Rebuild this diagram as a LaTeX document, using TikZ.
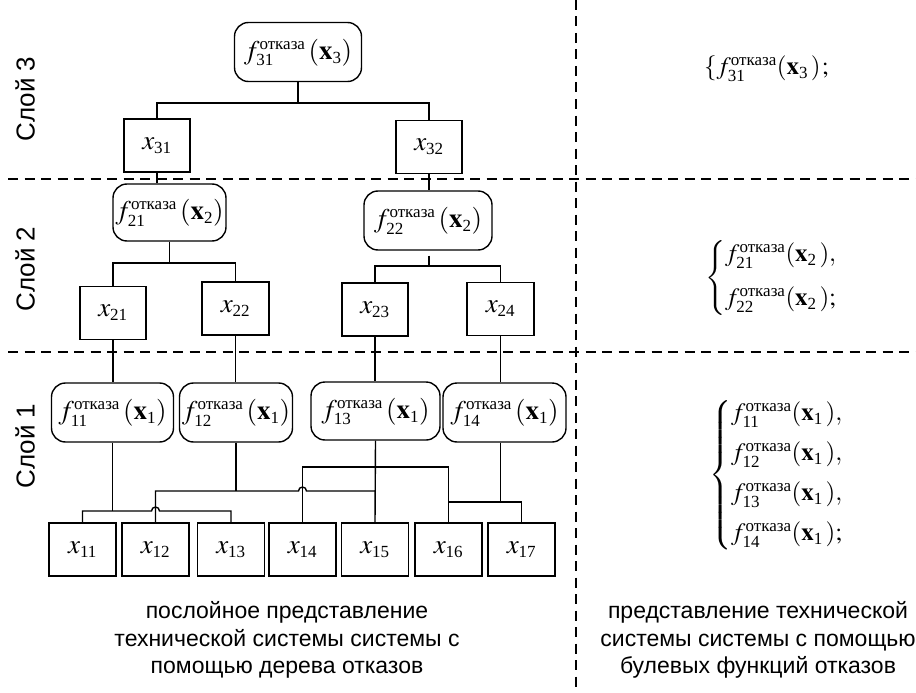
\documentclass[tikz,border=0pt]{standalone}
\usepackage{amsmath}
\usepackage{mathptmx}
\usepackage{fontspec}
\setmainfont{Liberation Serif}
\setsansfont{Liberation Sans}
\usetikzlibrary{calc}
\newcommand{\sxa}[1]{\mbox{\fontsize{17}{20}\selectfont #1}}
\newcommand{\sxb}[1]{\mbox{\fontsize{17}{20}\selectfont #1}}
\newcommand{\pstrut}{\rule[-5pt]{0pt}{26pt}}
\newcommand{\qstrut}{\rule[-5pt]{0pt}{25pt}}
\newcommand{\fotk}[2]{$f^{\sxa{отказа}}_{\sxa{#1}}\left(\mathbf{x}_{\sxa{#2}}\pstrut\right)$}
\newcommand{\fotkm}[2]{f^{\sxb{отказа}}_{\sxb{#1}}{\left(\mathbf{x}_{\sxb{#2}}\,\qstrut\right)}}
\begin{document}
\begin{tikzpicture}[x=1pt,y=-1pt,line width=1.4pt,
  mathfont/.style={font=\fontsize{27}{31}\selectfont},
  rmath/.style={font=\fontsize{25}{29}\selectfont},
  fnode/.style={draw,rounded corners=14pt,inner sep=0pt,mathfont},
  xnode/.style={draw,inner sep=0pt,minimum width=67pt,minimum height=53pt,mathfont},
  sep/.style={dash pattern=on 10pt off 6.5pt,line width=1.6pt},
  layer/.style={rotate=90,font=\sffamily\fontsize{26}{30}\selectfont},
  caption/.style={align=center,font=\sffamily\fontsize{23}{27.5}\selectfont}]
\useasboundingbox (0,0) rectangle (916,693);

% separators
\coordinate (s1a) at (8,179); \coordinate (s1b) at (916,179);
\coordinate (s2a) at (8,352); \coordinate (s2b) at (916,352);
\coordinate (sva) at (576,0); \coordinate (svb) at (576,693);
\draw[sep] (s1a) -- (s1b);
\draw[sep] (s2a) -- (s2b);
\draw[sep] (sva) -- (svb);

% layer labels
\node[layer] (L3) at (25,99) {Слой 3};
\node[layer] (L2) at (25,269) {Слой 2};
\node[layer] (L1) at (25,446) {Слой 1};

% layer 3
\node[fnode,minimum width=127pt,minimum height=59pt] (f31) at (298,52) {\fotk{31}{3}};
\node[xnode,minimum width=66pt] (x31) at (157,145.5) {$x_{\sxa{31}}$};
\node[xnode,minimum width=66pt] (x32) at (429,147) {$x_{\sxa{32}}$};

% layer 2
\node[fnode,minimum width=113pt,minimum height=57pt] (f21) at (169.5,212.5) {\fotk{21}{2}};
\node[fnode,minimum width=128pt,minimum height=59pt] (f22) at (428,220.5) {\fotk{22}{2}};
\node[xnode,minimum width=66pt] (x21) at (113,313) {$x_{\sxa{21}}$};
\node[xnode] (x22) at (235.5,308.5) {$x_{\sxa{22}}$};
\node[xnode,minimum width=66pt] (x23) at (375,309.5) {$x_{\sxa{23}}$};
\node[xnode] (x24) at (500.5,309) {$x_{\sxa{24}}$};

% layer 1
\node[fnode,minimum width=122pt,minimum height=59pt] (f11) at (112.5,412.5) {\fotk{11}{1}};
\node[fnode,minimum width=113pt,minimum height=59pt] (f12) at (236,412.5) {\fotk{12}{1}};
\node[fnode,minimum width=129pt,minimum height=58pt] (f13) at (375.5,411) {\fotk{13}{1}};
\node[fnode,minimum width=123pt,minimum height=59pt] (f14) at (504.5,412.5) {\fotk{14}{1}};

\node[xnode] (x11) at (82.5,549.5) {$x_{\sxa{11}}$};
\node[xnode] (x12) at (155.5,549.5) {$x_{\sxa{12}}$};
\node[xnode] (x13) at (231,549.5) {$x_{\sxa{13}}$};
\node[xnode] (x14) at (302.5,549.5) {$x_{\sxa{14}}$};
\node[xnode] (x15) at (375,549.5) {$x_{\sxa{15}}$};
\node[xnode] (x16) at (448.5,549.5) {$x_{\sxa{16}}$};
\node[xnode] (x17) at (521.5,549.5) {$x_{\sxa{17}}$};

% junction levels
\coordinate (t3) at (0,103);
\coordinate (t21) at (0,263);
\coordinate (t22) at (0,266);
\coordinate (h1) at (0,511);
\coordinate (h2) at (0,491);
\coordinate (h3) at (0,467);
\coordinate (h4) at (0,502);

% connectors layer 3
\draw (f31.south) -- (f31.south |- t3);
\draw (x31.north) -- (x31.north |- t3) -- (x32.north |- t3) -- (x32.north);
\draw (x31.south) -- (x31.south |- f21.north);
\draw (x32.south) -- (x32.south |- f22.north);

% connectors layer 2
\draw (f21.south) -- (f21.south |- t21);
\draw (x21.north) -- (x21.north |- t21) -- (x22.north |- t21) -- (x22.north);
\draw ($(f22.south)+(1,5)$) -- ($(f22.south |- t22)+(1,0)$);
\draw (x23.north) -- (x23.north |- t22) -- (x24.north |- t22) -- (x24.north);
\draw (x21.south) -- (x21.south |- f11.north);
\draw (x22.south) -- (x22.south |- f12.north);
\draw (x23.south) -- (x23.south |- f13.north);
\draw (x24.south) -- (x24.south |- f14.north);

% connectors layer 1
\draw (f11.south) -- (f11.south |- h1);
\draw (x11.north) -- (x11.north |- h1) -- ($(x12.north |- h1)+(-4,0)$)
  arc[start angle=180,end angle=0,radius=4pt] -- (x13.north |- h1) -- (x13.north);
\draw (f12.south) -- (f12.south |- h2);
\draw (x12.north) -- (x12.north |- h2) -- ($(x14.north |- h2)+(-4,0)$)
  arc[start angle=180,end angle=0,radius=4pt] -- (x15.north |- h2);
\draw (f13.south) -- (x15.north);
\draw (x14.north) -- (x14.north |- h3) -- (x16.north |- h3) -- (x16.north);
\draw (f14.south -| x24.south) -- (x24.south |- h4);
\draw (x16.north |- h4) -- (x17.north |- h4) -- (x17.north);

% right side formulas
\node[rmath,anchor=west] (R3) at (700,68) {$\left\{\fotkm{31}{3}\right.\!;$};
\node[rmath,anchor=west] (R2) at (701,278) {$\left\{\begin{array}{@{}l@{}}
  \fotkm{21}{2},\\[15pt]
  \fotkm{22}{2};
  \end{array}\right.$};
\node[rmath,anchor=west] (R1) at (705,475) {$\left\{\begin{array}{@{}l@{}}
  \fotkm{11}{1},\\[11pt]
  \fotkm{12}{1},\\[11pt]
  \fotkm{13}{1},\\[11pt]
  \fotkm{14}{1};
  \end{array}\right.$};

% captions
\node[caption] (C1) at (287,640) {послойное представление\\технической системы системы с\\помощью дерева отказов};
\node[caption] (C2) at (758,640) {представление технической\\системы системы с помощью\\булевых функций отказов};
\end{tikzpicture}
\end{document}
